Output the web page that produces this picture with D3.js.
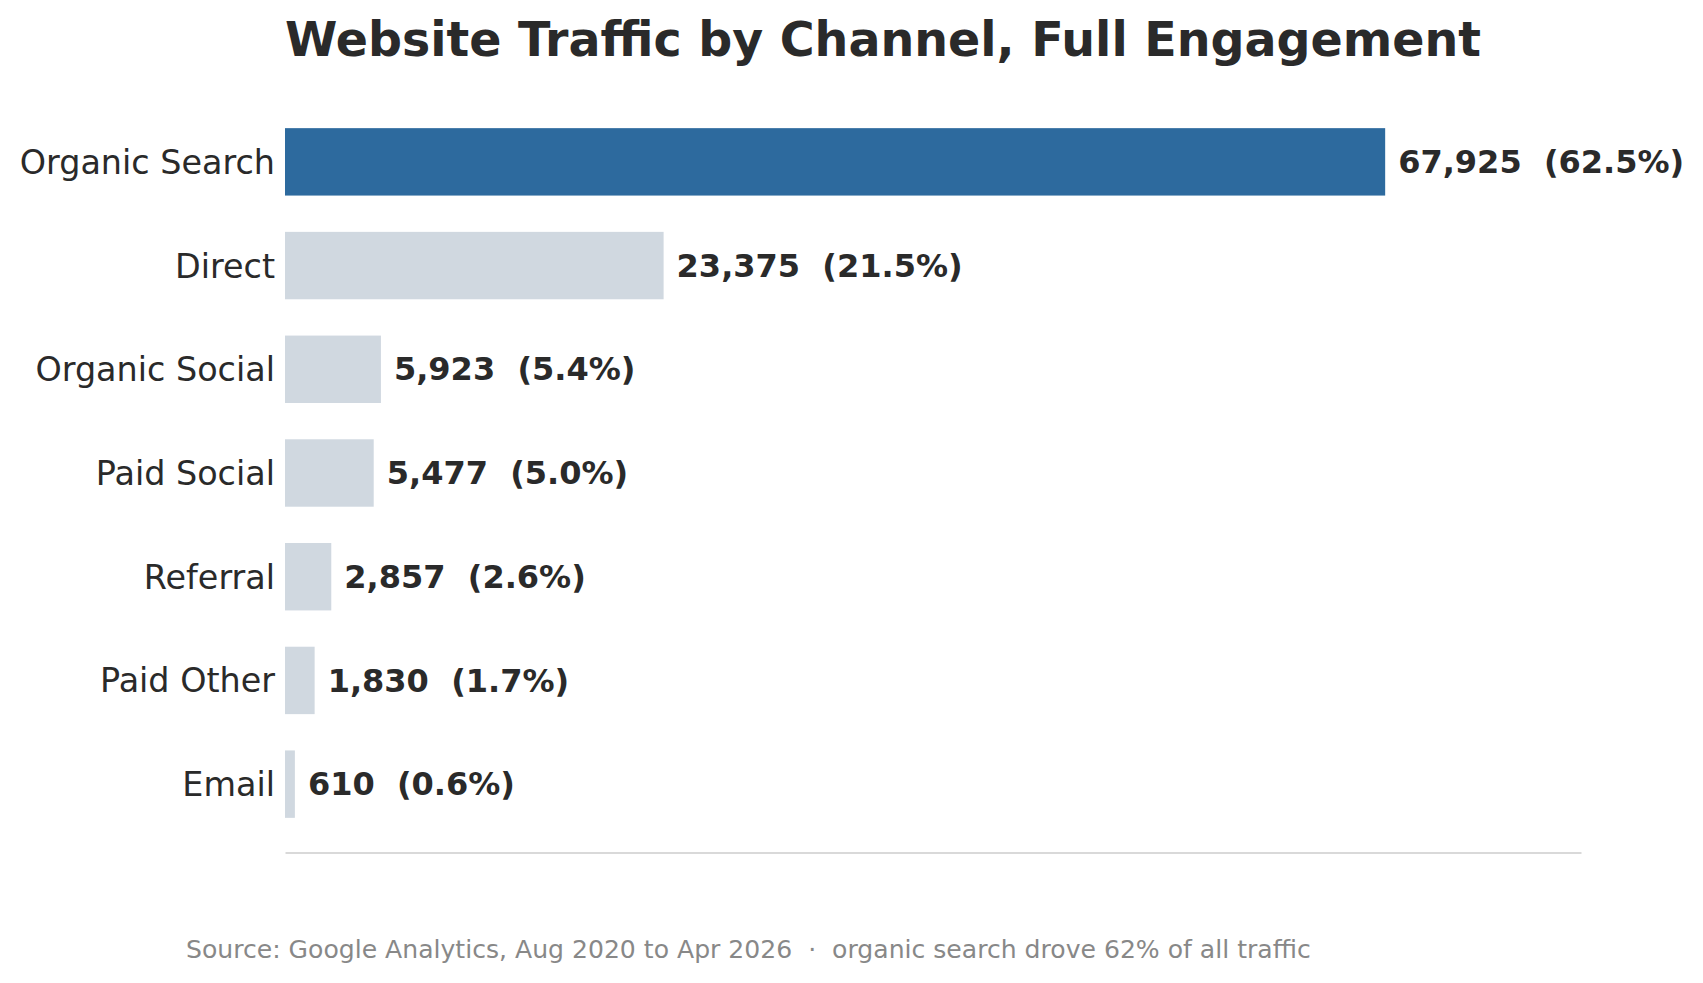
<!DOCTYPE html>
<html>
<head>
<meta charset="utf-8">
<script src="https://cdn.jsdelivr.net/npm/d3@7"></script>
<style>
  body { margin: 0; background: #fff; }
  svg { display: block; font-family: "DejaVu Sans", sans-serif; }
</style>
</head>
<body>
<svg id="chart"></svg>
<script>
// data
let channels = ['Organic Search', 'Direct', 'Organic Social', 'Paid Social', 'Referral', 'Paid Other', 'Email'];
let sessions = [67925, 23375, 5923, 5477, 2857, 1830, 610];
let shares = [62.5, 21.5, 5.4, 5.0, 2.6, 1.7, 0.6];

let width = 1703;
let height = 983;
let plotLeft = 285;
let plotRight = 1581;
let plotTop = 110;
let plotBottom = 836;

let svg = d3.select('#chart')
    .attr('width', width)
    .attr('height', height);

let xScale = d3.scaleLinear()
    .domain([0, d3.max(sessions) * 1.178])
    .range([plotLeft, plotRight]);

let yScale = d3.scaleBand()
    .domain(channels)
    .range([plotTop, plotBottom])
    .paddingInner(0.35)
    .paddingOuter(0.175);

// title
svg.append('text')
    .attr('x', plotLeft)
    .attr('y', 56)
    .attr('font-size', 47.5)
    .attr('font-weight', 'bold')
    .attr('fill', '#2a2a2a')
    .text('Website Traffic by Channel, Full Engagement');

// bars
svg.selectAll('rect.bar')
    .data(channels)
    .enter()
    .append('rect')
    .attr('class', 'bar')
    .attr('x', xScale(0))
    .attr('y', (d) => yScale(d))
    .attr('width', (d, i) => xScale(sessions[i]) - xScale(0))
    .attr('height', yScale.bandwidth())
    .attr('fill', (d, i) => i === 0 ? '#2d6a9e' : '#d0d8e0');

// value labels
svg.selectAll('text.val')
    .data(channels)
    .enter()
    .append('text')
    .attr('class', 'val')
    .attr('x', (d, i) => xScale(sessions[i]) + 13)
    .attr('y', (d) => yScale(d) + yScale.bandwidth() / 2)
    .attr('dy', '0.35em')
    .attr('font-size', 32)
    .attr('font-weight', 'bold')
    .attr('fill', '#2a2a2a')
    .style('white-space', 'pre')
    .text((d, i) => d3.format(',')(sessions[i]) + '\u00a0\u00a0(' + shares[i].toFixed(1) + '%)');

// category axis
let yAxis = d3.axisLeft(yScale).tickSize(0).tickPadding(10);
let gy = svg.append('g')
    .attr('transform', 'translate(' + plotLeft + ',0)')
    .call(yAxis);
gy.select('.domain').remove();
gy.selectAll('text')
    .attr('font-size', 33.4)
    .attr('dy', '0.36em')
    .attr('font-family', '"DejaVu Sans", sans-serif')
    .attr('fill', '#2a2a2a');

// bottom axis line only
let xAxis = d3.axisBottom(xScale).tickValues([]).tickSizeOuter(0);
let gx = svg.append('g')
    .attr('transform', 'translate(0,' + 852.5 + ')')
    .call(xAxis);
gx.select('.domain')
    .attr('stroke', '#cccccc')
    .attr('stroke-width', 1.6);

// footer
svg.append('text')
    .attr('x', 186)
    .attr('y', 958)
    .attr('font-size', 25.1)
    .attr('fill', '#888888')
    .style('white-space', 'pre')
    .text('Source: Google Analytics, Aug 2020 to Apr 2026  \u00b7  organic search drove 62% of all traffic');
</script>
</body>
</html>
